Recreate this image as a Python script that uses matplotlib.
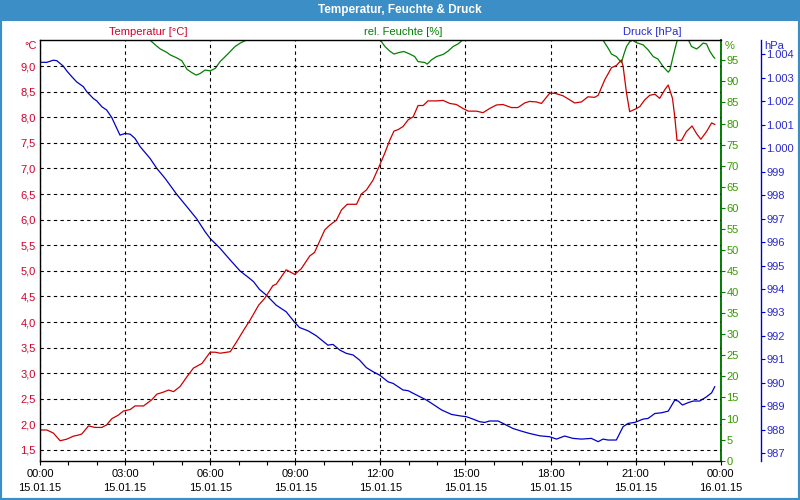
import numpy as np
import matplotlib
matplotlib.use('Agg')
import matplotlib.pyplot as plt
from matplotlib.patches import Rectangle
from matplotlib.ticker import FixedLocator, MultipleLocator

plt.rcParams['font.family'] = ['Liberation Sans', 'DejaVu Sans']

# Temperatur [°C] (Stunden ab 15.01.15 00:00)
temp_h = [0.0, 0.24, 0.47, 0.71, 0.94, 1.18, 1.35, 1.47, 1.71, 1.94, 2.18, 2.35, 2.53, 2.76,
          2.94, 3.18, 3.35, 3.65, 3.94, 4.12, 4.35, 4.53, 4.71, 4.94, 5.18, 5.41, 5.71, 6.0,
          6.18, 6.35, 6.71, 6.94, 7.18, 7.41, 7.71, 7.92, 8.21, 8.33, 8.68, 8.98, 9.21, 9.51,
          9.68, 10.04, 10.21, 10.45, 10.63, 10.83, 11.16, 11.33, 11.51, 11.74, 11.98, 12.15,
          12.33, 12.48, 12.63, 12.8, 12.98, 13.16, 13.33, 13.51, 13.68, 13.98, 14.21, 14.45,
          14.68, 14.92, 15.1, 15.39, 15.62, 15.85, 16.09, 16.32, 16.62, 16.85, 17.09, 17.26,
          17.5, 17.68, 17.97, 18.15, 18.44, 18.68, 18.85, 19.09, 19.32, 19.56, 19.68, 19.91,
          20.15, 20.32, 20.5, 20.56, 20.68, 20.79, 21.03, 21.15, 21.32, 21.5, 21.68, 21.85,
          22.03, 22.15, 22.3, 22.38, 22.46, 22.62, 22.79, 22.99, 23.15, 23.3, 23.5, 23.68, 23.79]
temp_c = [1.89, 1.89, 1.83, 1.68, 1.71, 1.77, 1.79, 1.81, 1.97, 1.94, 1.94, 1.99, 2.11, 2.18,
          2.26, 2.29, 2.36, 2.36, 2.48, 2.59, 2.63, 2.67, 2.64, 2.74, 2.93, 3.10, 3.19, 3.41,
          3.41, 3.39, 3.42, 3.62, 3.84, 4.04, 4.33, 4.46, 4.71, 4.74, 5.02, 4.93, 5.04, 5.29,
          5.36, 5.80, 5.89, 5.99, 6.19, 6.30, 6.30, 6.50, 6.58, 6.77, 7.07, 7.29,
          7.55, 7.73, 7.76, 7.82, 7.95, 8.01, 8.23, 8.23, 8.32, 8.32, 8.33, 8.27,
          8.25, 8.17, 8.12, 8.12, 8.09, 8.17, 8.24, 8.25, 8.19, 8.19, 8.28, 8.31,
          8.30, 8.27, 8.47, 8.47, 8.42, 8.34, 8.28, 8.30, 8.40, 8.39, 8.43, 8.73,
          8.97, 9.01, 9.12, 8.99, 8.47, 8.11, 8.17, 8.21, 8.34, 8.43, 8.45, 8.37,
          8.54, 8.63, 8.37, 8.01, 7.55, 7.55, 7.72, 7.83, 7.68, 7.57, 7.72, 7.89, 7.86]

# rel. Feuchte [%]
feuchte_h = [0.0, 3.7, 3.88, 4.06, 4.24, 4.47, 4.59, 4.82, 5.0, 5.18, 5.35, 5.51, 5.65, 5.82,
             6.0, 6.18, 6.35, 6.59, 6.88, 7.06, 7.24, 7.4, 11.85, 12.0, 12.16, 12.33, 12.48,
             12.68, 12.83, 13.04, 13.21, 13.33, 13.57, 13.65, 13.8, 13.98, 14.21, 14.39, 14.57,
             14.74, 14.88, 15.0, 19.7, 19.85, 20.03, 20.15, 20.32, 20.5, 20.58, 20.68, 20.79,
             20.89, 21.03, 21.26, 21.44, 21.62, 21.79, 21.97, 22.15, 22.21, 22.32, 22.44, 22.48,
             22.85, 22.97, 23.15, 23.26, 23.38, 23.5, 23.62, 23.74, 23.79]
feuchte_pct = [100, 100, 99.8, 98.7, 97.7, 96.9, 96.3, 95.6, 94.9, 92.9, 92.1, 91.5, 91.9, 92.7,
               92.5, 93.1, 94.7, 96.3, 98.3, 99.1, 99.7, 100, 100, 99.8, 98.3, 97.2, 96.5,
               96.9, 97.1, 96.5, 95.9, 94.7, 94.5, 94.1, 95.1, 95.9, 96.4, 97.2, 98.3,
               98.9, 99.7, 100, 100, 99.8, 97.9, 96.5, 95.9, 94.5, 96.3, 98.3, 99.4,
               99.8, 99.2, 98.7, 97.5, 95.9, 95.3, 93.5, 92.2, 92.7, 95.9, 99.1, 100,
               100, 98.3, 97.7, 98.3, 99.1, 98.9, 97.1, 95.9, 95.5]

# Druck [hPa]
druck_h = [0.0, 0.24, 0.47, 0.59, 0.71, 0.82, 0.94, 1.12, 1.29, 1.53, 1.65, 1.88, 2.0, 2.18,
           2.35, 2.53, 2.68, 2.82, 3.0, 3.18, 3.35, 3.53, 3.88, 4.12, 4.41, 4.82, 5.18, 5.53,
           5.82, 6.0, 6.35, 6.71, 7.06, 7.35, 7.53, 7.74, 7.98, 8.33, 8.68, 8.98, 9.15, 9.45,
           9.74, 10.15, 10.33, 10.57, 10.8, 11.04, 11.27, 11.51, 11.74, 11.98, 12.27, 12.45,
           12.8, 12.98, 13.27, 13.63, 13.86, 14.16, 14.51, 14.8, 15.04, 15.27, 15.5, 15.68,
           15.85, 16.15, 16.32, 16.68, 16.97, 17.26, 17.62, 17.97, 18.21, 18.5, 18.79, 19.09,
           19.44, 19.68, 19.85, 20.03, 20.32, 20.56, 20.74, 20.97, 21.26, 21.44, 21.68, 21.91,
           22.15, 22.38, 22.5, 22.65, 22.85, 23.03, 23.26, 23.5, 23.68, 23.79]
druck_hpa = [1003.65, 1003.65, 1003.74, 1003.72, 1003.60, 1003.49, 1003.29, 1003.04, 1002.82,
             1002.61, 1002.40, 1002.11, 1002.01, 1001.76, 1001.62, 1001.30, 1000.91, 1000.55,
             1000.62, 1000.59, 1000.41, 1000.06, 999.56, 999.13, 998.71, 998.03, 997.50, 996.98,
             996.44, 996.15, 995.73, 995.23, 994.76, 994.49, 994.31, 993.98, 993.74, 993.31,
             993.03, 992.58, 992.36, 992.22, 992.01, 991.61, 991.64, 991.40, 991.26, 991.19,
             990.97, 990.65, 990.48, 990.33, 990.05, 989.98, 989.70, 989.67, 989.49, 989.27,
             989.09, 988.85, 988.66, 988.60, 988.56, 988.46, 988.35, 988.32, 988.38, 988.38,
             988.28, 988.06, 987.95, 987.85, 987.75, 987.71, 987.61, 987.74, 987.64, 987.61,
             987.64, 987.50, 987.61, 987.57, 987.57, 988.14, 988.28, 988.32, 988.46, 988.49,
             988.70, 988.73, 988.80, 989.27, 989.23, 989.06, 989.16, 989.23, 989.23, 989.41,
             989.58, 989.84]

x_ticks = [0, 3, 6, 9, 12, 15, 18, 21, 24]
x_labels = ['00:00\n15.01.15', '03:00\n15.01.15', '06:00\n15.01.15', '09:00\n15.01.15',
            '12:00\n15.01.15', '15:00\n15.01.15', '18:00\n15.01.15', '21:00\n15.01.15',
            '00:00\n16.01.15']
temp_ticks = [1.5, 2.0, 2.5, 3.0, 3.5, 4.0, 4.5, 5.0, 5.5, 6.0, 6.5, 7.0, 7.5, 8.0, 8.5, 9.0]
feuchte_ticks = list(range(0, 100, 5))
druck_ticks = list(range(987, 1005))

rot = '#d4002a'
rot_linie = '#cc0000'
gruen = '#008000'
gruen_text = '#3a9a00'
blau = '#0000cc'
blau_text = '#2a2ad0'
kopf = '#3c8ec6'

W, H = 800, 500
fig = plt.figure(figsize=(8, 5), dpi=100)
fig.patch.set_facecolor('white')

def fx(px):
    return px / W

def fy(py):
    return 1 - py / H

ax = fig.add_axes([fx(40), fy(460.7), (720.7 - 40) / W, (460.7 - 40) / H])
ax2 = ax.twinx()
ax3 = ax.twinx()

# Achsen
ax.set_xlim(0, 24)
ax.set_ylim(1.29, 9.51)
ax2.set_ylim(0, 99.83)
ax3.set_ylim(986.69, 1004.60)

ax.xaxis.set_major_locator(FixedLocator(x_ticks))
ax.set_xticklabels(x_labels, fontsize=8, linespacing=1.5)
ax.xaxis.set_minor_locator(MultipleLocator(1))
ax.tick_params(axis='x', which='both', direction='out', length=3, width=0.8, pad=3)

ax.yaxis.set_major_locator(FixedLocator(temp_ticks))
ax.set_yticklabels([f'{t:.1f}'.replace('.', ',') for t in temp_ticks], fontsize=8, color=rot)
ax.tick_params(axis='y', length=0, pad=3)

ax.grid(True, color='black', linestyle=(0, (3, 3)), linewidth=0.8)
ax.set_axisbelow(True)

ax2.yaxis.set_major_locator(FixedLocator(feuchte_ticks))
ax2.set_yticklabels([str(v) for v in feuchte_ticks], fontsize=8, color=gruen_text)
ax2.tick_params(axis='y', direction='out', length=3, width=0.8, color=gruen, pad=1)

ax3.spines['right'].set_position(('axes', (761 - 40) / (720.7 - 40)))
ax3.yaxis.set_major_locator(FixedLocator(druck_ticks))
ax3.set_yticklabels([f'{v:,}'.replace(',', '.') for v in druck_ticks], fontsize=8, color=blau_text)
ax3.tick_params(axis='y', direction='out', length=3, width=0.8, color=blau, pad=1)

for a in (ax, ax2, ax3):
    for s in a.spines.values():
        s.set_visible(False)
for name in ('left', 'top', 'bottom'):
    ax.spines[name].set_visible(True)
    ax.spines[name].set_color('black')
    ax.spines[name].set_linewidth(1.0)
ax2.spines['right'].set_visible(True)
ax2.spines['right'].set_color(gruen)
ax2.spines['right'].set_linewidth(1.4)
ax3.spines['right'].set_visible(True)
ax3.spines['right'].set_color(blau)
ax3.spines['right'].set_linewidth(1.0)

# Kurven
ax3.plot(druck_h, druck_hpa, color=blau, linewidth=0.9)
ax2.plot(feuchte_h, feuchte_pct, color=gruen, linewidth=0.9)
ax.plot(temp_h, temp_c, color=rot_linie, linewidth=0.9)
ax.set_zorder(3)
ax.patch.set_visible(False)
ax2.set_zorder(2)
ax3.set_zorder(1)

# Kopfzeile und Rahmen
fig.patches.append(Rectangle((0, fy(21)), 1, 21 / H, transform=fig.transFigure,
                             facecolor=kopf, edgecolor='none', zorder=0))
fig.patches.append(Rectangle((0, 0), 1, 1, transform=fig.transFigure, fill=False,
                             edgecolor=kopf, linewidth=3, zorder=0))
fig.text(0.5, fy(10.5), 'Temperatur, Feuchte & Druck', ha='center', va='center',
         color='white', fontsize=8.5, fontweight='bold')

fig.text(fx(148), fy(32), 'Temperatur [°C]', ha='center', va='center', color=rot, fontsize=8)
fig.text(fx(403), fy(32), 'rel. Feuchte [%]', ha='center', va='center', color=gruen, fontsize=8)
fig.text(fx(652), fy(32), 'Druck [hPa]', ha='center', va='center', color=blau_text, fontsize=8)

fig.text(fx(31), fy(46), '°C', ha='center', va='center', color=rot, fontsize=8)
fig.text(fx(725), fy(46), '%', ha='left', va='center', color=gruen_text, fontsize=8)
fig.text(fx(764), fy(46), 'hPa', ha='left', va='center', color=blau_text, fontsize=8)

fig.savefig('out.png', dpi=100)
